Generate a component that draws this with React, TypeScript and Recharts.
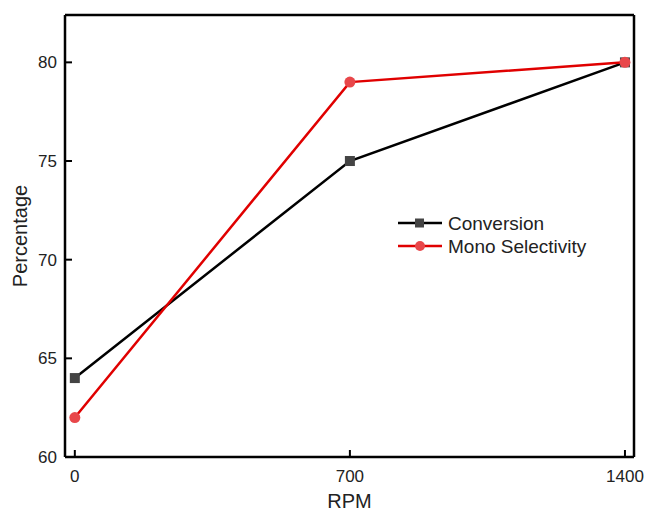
import React from 'react';
import { LineChart, Line, XAxis, YAxis, ReferenceLine } from 'recharts';

const rpm = [0, 700, 1400];
const conversion = [64, 75, 80];
const monoSelectivity = [62, 79, 80];
const xTicks = [0, 700, 1400];
const yTicks = [60, 65, 70, 75, 80];
const xDomain = [-25, 1423];
const yDomain = [60, 82.4];

const data = rpm.map((r, i) => ({ rpm: r, conversion: conversion[i], mono: monoSelectivity[i] }));

const FONT = 'Arial, "Liberation Sans", Helvetica, sans-serif';
const TEXT = '#222';

const SquareDot = (props: any) => {
  const { cx, cy } = props;
  if (cx == null || cy == null) return null;
  return <rect x={cx - 5} y={cy - 5} width={10} height={10} fill="#444" />;
};

const CircleDot = (props: any) => {
  const { cx, cy } = props;
  if (cx == null || cy == null) return null;
  return <circle cx={cx} cy={cy} r={5.5} fill="#e8474a" />;
};

const YTick = (props: any) => {
  const { x, y, payload } = props;
  return (
    <g>
      <line x1={x + 8} x2={x + 15} y1={y} y2={y} stroke="#000" strokeWidth={2} />
      <text x={x} y={y} dy={6} textAnchor="end" fontSize={17} fill={TEXT} fontFamily={FONT}>
        {payload.value}
      </text>
    </g>
  );
};

const XTick = (props: any) => {
  const { x, y, payload } = props;
  return (
    <g>
      <line x1={x} x2={x} y1={y - 8} y2={y - 15} stroke="#000" strokeWidth={2} />
      <text x={x} y={y} dy={17} textAnchor="middle" fontSize={17} fill={TEXT} fontFamily={FONT}>
        {payload.value}
      </text>
    </g>
  );
};

const legendItems = [
  { label: 'Conversion', color: '#000', marker: 'square' },
  { label: 'Mono Selectivity', color: '#e00000', marker: 'circle' },
];

const ChartLegend = () => (
  <svg width={240} height={50} style={{ position: 'absolute', left: 398, top: 212, overflow: 'visible' }}>
    {legendItems.map((it, i) => {
      const cy = 11 + i * 23;
      return (
        <g key={it.label}>
          <line x1={0} x2={44} y1={cy} y2={cy} stroke={it.color} strokeWidth={2.5} />
          {it.marker === 'square' ? (
            <rect x={17} y={cy - 4.5} width={9} height={9} fill="#444" />
          ) : (
            <circle cx={22} cy={cy} r={5} fill="#e8474a" />
          )}
          <text x={50} y={cy} dy={6.5} fontSize={19} fill={TEXT} fontFamily={FONT}>
            {it.label}
          </text>
        </g>
      );
    })}
  </svg>
);

export default function App() {
  return (
    <div style={{ position: 'absolute', left: 0, top: 0, width: 646, height: 514, background: '#fff' }}>
      <LineChart width={646} height={514} data={data} margin={{ top: 15, right: 12, left: 0, bottom: 0 }}>
        <XAxis
          dataKey="rpm"
          type="number"
          domain={xDomain}
          ticks={xTicks}
          height={57}
          tickSize={0}
          tickMargin={8}
          tickLine={false}
          tick={<XTick />}
          axisLine={{ stroke: '#000', strokeWidth: 2.5 }}
          label={{ value: 'RPM', position: 'insideBottom', offset: 6, fontSize: 20, fill: TEXT, fontFamily: FONT }}
        />
        <YAxis
          type="number"
          domain={yDomain}
          ticks={yTicks}
          width={65}
          tickSize={0}
          tickMargin={8}
          tickLine={false}
          tick={<YTick />}
          axisLine={{ stroke: '#000', strokeWidth: 2.5 }}
          label={{ value: 'Percentage', angle: -90, position: 'insideLeft', offset: 20, fontSize: 20, fill: TEXT, fontFamily: FONT, style: { textAnchor: 'middle' } }}
        />
        <ReferenceLine y={yDomain[1]} stroke="#000" strokeWidth={2.5} />
        <ReferenceLine x={xDomain[1]} stroke="#000" strokeWidth={2.5} />
        <Line
          dataKey="conversion"
          stroke="#000"
          strokeWidth={2.5}
          dot={<SquareDot />}
          activeDot={false}
          isAnimationActive={false}
        />
        <Line
          dataKey="mono"
          stroke="#e00000"
          strokeWidth={2.5}
          dot={<CircleDot />}
          activeDot={false}
          isAnimationActive={false}
        />
      </LineChart>
      <ChartLegend />
    </div>
  );
}
